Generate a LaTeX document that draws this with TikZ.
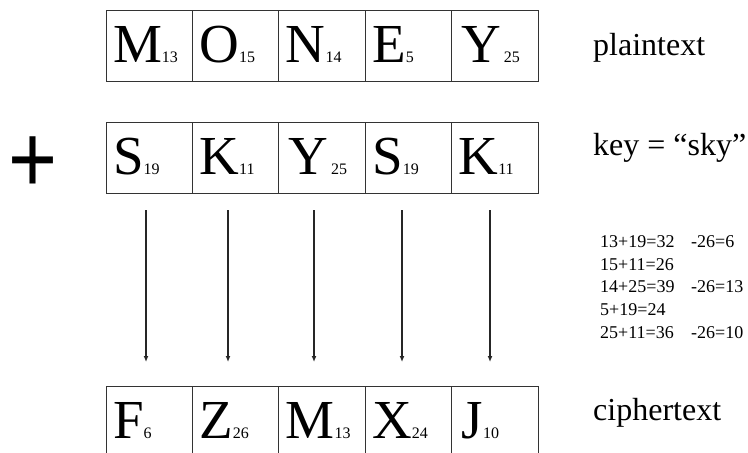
\documentclass[tikz,border=0pt]{standalone}
\usepackage{fontspec}
\setmainfont{Liberation Serif}
\newfontfamily\plusfont{Liberation Sans}
\usetikzlibrary{arrows.meta}

% big letter with its number beside it
\newcommand{\cellltr}[2]{{\fontsize{55}{55}\selectfont #1}{\fontsize{16}{16}\selectfont #2}}

\tikzset{
  cell/.style={rectangle, draw=black!80, line width=1pt, minimum width=86.4pt,
    minimum height=71pt, text width=72.4pt, inner xsep=7pt, inner ysep=0pt,
    align=left, text height=45pt, text depth=12pt},
  word/.style={anchor=base west, inner sep=0pt, font=\fontsize{32}{32}\selectfont},
  calc/.style={anchor=base west, inner sep=0pt, font=\fontsize{18}{18}\selectfont},
  shift arrow/.style={draw=black!85, line width=1.2pt, -{Latex[length=6pt,width=5pt]}}
}

\begin{document}
\begin{tikzpicture}[x=1pt, y=-1pt]
    \useasboundingbox (0,0) rectangle (748,453);
    \clip (0,0) rectangle (748,453);

    % Draw plaintext row
    \node[cell] (p1) at (149.2,45.5) {\cellltr{M}{13}};
    \node[cell] (p2) at (235.6,45.5) {\cellltr{O}{15}};
    \node[cell] (p3) at (322.0,45.5) {\cellltr{N}{14}};
    \node[cell] (p4) at (408.4,45.5) {\cellltr{E}{5}};
    \node[cell] (p5) at (494.8,45.5) {\hspace{3pt}\cellltr{Y}{\,25}};

    % Draw key row
    \node[cell] (k1) at (149.2,157.5) {\cellltr{S}{19}};
    \node[cell] (k2) at (235.6,157.5) {\cellltr{K}{11}};
    \node[cell] (k3) at (322.0,157.5) {\hspace{3pt}\cellltr{Y}{\,25}};
    \node[cell] (k4) at (408.4,157.5) {\cellltr{S}{19}};
    \node[cell] (k5) at (494.8,157.5) {\cellltr{K}{11}};

    % Draw ciphertext row
    \node[cell] (c1) at (149.2,421.5) {\cellltr{F}{6}};
    \node[cell] (c2) at (235.6,421.5) {\cellltr{Z}{26}};
    \node[cell] (c3) at (322.0,421.5) {\cellltr{M}{13}};
    \node[cell] (c4) at (408.4,421.5) {\cellltr{X}{24}};
    \node[cell] (c5) at (494.8,421.5) {\hspace{3pt}\cellltr{J}{10}};

    % Plus sign
    \node[inner sep=0pt, yscale=1.15, font=\plusfont\fontsize{84}{84}\selectfont] (plus) at (33.5,165) {+};

    % Draw connections
    \coordinate (s1) at (146,210); \coordinate (e1) at (146,362);
    \coordinate (s2) at (228,210); \coordinate (e2) at (228,362);
    \coordinate (s3) at (314,210); \coordinate (e3) at (314,362);
    \coordinate (s4) at (402,210); \coordinate (e4) at (402,362);
    \coordinate (s5) at (490,210); \coordinate (e5) at (490,362);
    \draw[shift arrow] (s1) -- (e1);
    \draw[shift arrow] (s2) -- (e2);
    \draw[shift arrow] (s3) -- (e3);
    \draw[shift arrow] (s4) -- (e4);
    \draw[shift arrow] (s5) -- (e5);

    % Labels
    \node[word] (plain) at (593,55) {plaintext};
    \node[word] (key) at (593,155) {key = “sky”};
    \node[word] (cipher) at (593,420) {ciphertext};

    % Sums
    \node[calc] (m1) at (600,247.3) {13+19=32};
    \node[calc] (m2) at (600,270.0) {15+11=26};
    \node[calc] (m3) at (600,292.7) {14+25=39};
    \node[calc] (m4) at (600,315.3) {5+19=24};
    \node[calc] (m5) at (600,338.0) {25+11=36};
    \node[calc] (r1) at (691,247.3) {-26=6};
    \node[calc] (r3) at (691,292.7) {-26=13};
    \node[calc] (r5) at (691,338.0) {-26=10};
\end{tikzpicture}
\end{document}
